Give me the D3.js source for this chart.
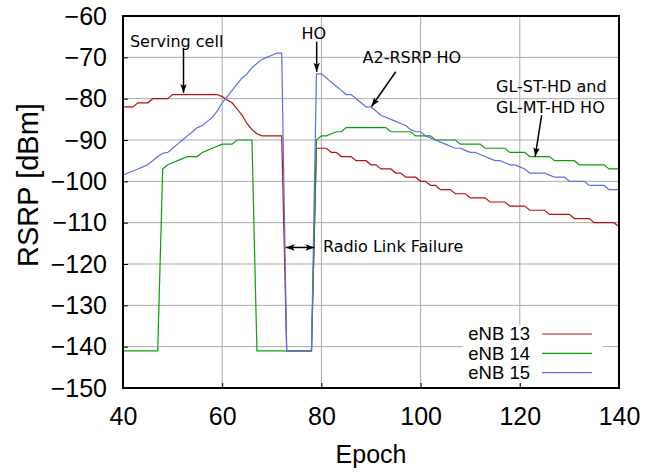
<!DOCTYPE html>
<html>
<head>
<meta charset="utf-8">
<script src="https://cdn.jsdelivr.net/npm/d3@7"></script>
<style>
  body { margin: 0; background: #fff; }
  svg { display: block; }
</style>
</head>
<body>
<div id="chart"></div>
<script>
// epochs 40..140, one RSRP sample per epoch
const epochs = d3.range(40, 141);

const enb13 = [
  -82, -82, -82, -81, -81, -81, -80, -80, -80, -80,
  -79, -79, -79, -79, -79, -79, -79, -79, -79, -79,
  -79.5, -80.3, -81, -82.5, -84, -86, -87.5, -88.5, -89, -89,
  -89, -89, -89, -141, -141, -141, -141, -141, -141, -92,
  -92, -92, -93, -93, -94, -94, -94, -95, -95, -95,
  -96, -96, -97, -97, -97, -98, -98, -99, -99, -99,
  -100, -100, -101, -101, -102, -102, -102, -103, -103, -103,
  -104, -104, -104, -104, -105, -105, -105, -105, -106, -106,
  -106, -106, -107, -107, -107, -107, -108, -108, -108, -108,
  -108, -109, -109, -109, -109, -110, -110, -110, -110, -110,
  -111
];

const enb14 = [
  -141, -141, -141, -141, -141, -141, -141, -141, -97, -96,
  -95.5, -95, -94.5, -94, -94, -94, -93, -92.5, -92, -91.5,
  -91, -91, -91, -90, -90, -90, -90, -141, -141, -141,
  -141, -141, -141, -141, -141, -141, -141, -141, -141, -90,
  -89, -89, -88.5, -88, -88, -87, -87, -87, -87, -87,
  -87, -87, -87, -87, -88, -88, -88, -88, -88, -89,
  -89, -89, -89, -90, -90, -90, -90, -90, -91, -91,
  -91, -91, -91, -92, -92, -92, -92, -92, -93, -93,
  -93, -93, -94, -94, -94, -94, -94, -95, -95, -95,
  -95, -95, -96, -96, -96, -96, -96, -96, -97, -97,
  -97
];

const enb15 = [
  -98.5, -98, -97.5, -97, -96.5, -96, -95, -94, -93.2, -93,
  -92, -91, -90, -89, -88, -87, -86.5, -85.5, -84.5, -83,
  -81, -79.5, -78, -76.5, -75, -74, -72.5, -71.5, -70.5, -70,
  -69.5, -69, -69, -141, -141, -141, -141, -141, -141, -74,
  -74, -75, -76, -77, -78, -79, -79, -80, -81, -82,
  -82, -83, -84, -84.5, -85, -85.5, -86, -86.5, -87.5, -88,
  -88, -89, -89.5, -90, -90.5, -91, -91.5, -92, -92, -92.5,
  -93, -93, -93.5, -94, -94.5, -95, -95, -95.5, -96, -96,
  -96.5, -97, -98, -98, -98, -98, -98.5, -99, -99, -99,
  -100, -100, -100, -100, -101, -101, -101, -101, -102, -102,
  -102
];

const seriesNames = ["eNB 13", "eNB 14", "eNB 15"];
const seriesColors = ["#b31212", "#0a9f0a", "#5c70e0"];

const xTicks = [40, 60, 80, 100, 120, 140];
const yTicks = [-150, -140, -130, -120, -110, -100, -90, -80, -70, -60];

// annotation texts and arrows, in data units (epoch, dBm)
const notes = [
  { text: "Serving cell", x: 41.4, y: -67.5 },
  { text: "HO", x: 76.0, y: -65.6 },
  { text: "A2-RSRP HO", x: 88.3, y: -71.4 },
  { text: "GL-ST-HD and", x: 115.2, y: -78.3 },
  { text: "GL-MT-HD HO", x: 115.2, y: -83.4 },
  { text: "Radio Link Failure", x: 80.3, y: -117.1 }
];
const arrows = [
  { x1: 52.2, y1: -67.7, x2: 52.2, y2: -78.6, both: false },
  { x1: 79.05, y1: -66.2, x2: 79.05, y2: -73.5, both: false },
  { x1: 95.0, y1: -73.5, x2: 90.1, y2: -81.9, both: false },
  { x1: 124.4, y1: -84.0, x2: 123.1, y2: -94.0, both: false },
  { x1: 72.8, y1: -116.0, x2: 78.6, y2: -116.0, both: true }
];

const W = 646, H = 472;
const margin = { top: 16, right: 27, bottom: 84, left: 123 };
const width = W - margin.left - margin.right;
const height = H - margin.top - margin.bottom;

const svg = d3.select("#chart")
  .append("svg")
  .attr("width", W)
  .attr("height", H);

const defs = svg.append("defs");
defs.append("marker")
  .attr("id", "head")
  .attr("viewBox", "-10 -5 12 10")
  .attr("refX", 0)
  .attr("refY", 0)
  .attr("markerWidth", 12)
  .attr("markerHeight", 10)
  .attr("markerUnits", "userSpaceOnUse")
  .attr("orient", "auto-start-reverse")
  .append("path")
  .attr("d", "M0,0L-9,-3.2L-7,0L-9,3.2Z")
  .attr("fill", "#000");

const g = svg.append("g")
  .attr("transform", `translate(${margin.left},${margin.top})`);

const x = d3.scaleLinear().domain([40, 140]).range([0, width]);
const y = d3.scaleLinear().domain([-150, -60]).range([height, 0]);

// grid
g.append("g")
  .selectAll("line.gx")
  .data(xTicks.slice(1, -1))
  .enter()
  .append("line")
  .attr("x1", d => x(d)).attr("x2", d => x(d))
  .attr("y1", 0).attr("y2", height)
  .attr("stroke", "#a9a9a9").attr("stroke-width", 1);

g.append("g")
  .selectAll("line.gy")
  .data(yTicks.slice(1, -1))
  .enter()
  .append("line")
  .attr("x1", 0).attr("x2", width)
  .attr("y1", d => y(d)).attr("y2", d => y(d))
  .attr("stroke", "#a9a9a9").attr("stroke-width", 1);

// axes
const fontAxis = "'Liberation Sans', Arial, sans-serif";

const xAxis = g.append("g")
  .attr("transform", `translate(0,${height})`)
  .call(d3.axisBottom(x).tickValues(xTicks).tickSize(-5).tickPadding(19));
const yAxis = g.append("g")
  .call(d3.axisLeft(y).tickValues(yTicks).tickSize(-5).tickPadding(16));

[xAxis, yAxis].forEach(a => {
  a.select(".domain").remove();
  a.selectAll("text")
    .attr("font-family", fontAxis)
    .attr("font-size", 25)
    .attr("fill", "#000");
  a.selectAll("line").attr("stroke", "#000").attr("stroke-width", 1);
});

// series
const line = d3.line()
  .x((d, i) => x(epochs[i]))
  .y(d => y(d));

[enb13, enb14, enb15].forEach((s, i) => {
  g.append("path")
    .datum(s)
    .attr("fill", "none")
    .attr("stroke", seriesColors[i])
    .attr("stroke-width", 1.2)
    .attr("d", line);
});

// frame
g.append("rect")
  .attr("width", width)
  .attr("height", height)
  .attr("fill", "none")
  .attr("stroke", "#000")
  .attr("stroke-width", 2);

// annotations
const fontNote = "'DejaVu Sans', sans-serif";
g.selectAll("text.note")
  .data(notes)
  .enter()
  .append("text")
  .attr("x", d => x(d.x))
  .attr("y", d => y(d.y))
  .attr("font-family", fontNote)
  .attr("font-size", 16)
  .attr("fill", "#000")
  .text(d => d.text);

g.selectAll("line.arrow")
  .data(arrows)
  .enter()
  .append("line")
  .attr("x1", d => x(d.x1)).attr("y1", d => y(d.y1))
  .attr("x2", d => x(d.x2)).attr("y2", d => y(d.y2))
  .attr("stroke", "#000")
  .attr("stroke-width", 1.5)
  .attr("marker-end", "url(#head)")
  .attr("marker-start", d => d.both ? "url(#head)" : null);

// legend
const legend = svg.append("g");
legend.append("rect")
  .attr("x", 463).attr("y", 325)
  .attr("width", 140).attr("height", 58)
  .attr("fill", "#fff");

seriesNames.forEach((name, i) => {
  const ly = 334 + i * 19.3;
  legend.append("text")
    .attr("x", 530).attr("y", ly)
    .attr("dy", "0.35em")
    .attr("text-anchor", "end")
    .attr("font-family", fontAxis)
    .attr("font-size", 18.5)
    .text(name);
  legend.append("line")
    .attr("x1", 542).attr("x2", 592)
    .attr("y1", ly).attr("y2", ly)
    .attr("stroke", seriesColors[i])
    .attr("stroke-width", 1.2);
});

// axis titles
svg.append("text")
  .attr("x", margin.left + width / 2)
  .attr("y", 463)
  .attr("text-anchor", "middle")
  .attr("font-family", fontAxis)
  .attr("font-size", 25)
  .text("Epoch");

svg.append("text")
  .attr("transform", "translate(38,185) rotate(-90)")
  .attr("text-anchor", "middle")
  .attr("font-family", fontAxis)
  .attr("font-size", 29)
  .text("RSRP [dBm]");
</script>
</body>
</html>
